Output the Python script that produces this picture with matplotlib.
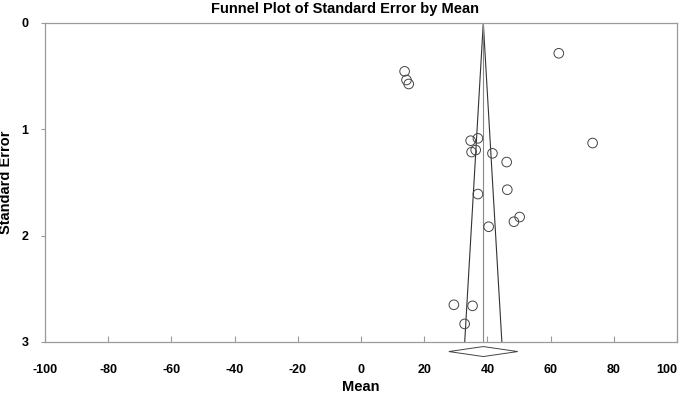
import numpy as np
import matplotlib
matplotlib.use("Agg")
import matplotlib.pyplot as plt

plt.rcParams['font.family'] = ['Liberation Sans', 'DejaVu Sans']

# study means and standard errors
MEANS = [62.6, 13.8, 14.4, 15.1, 34.7, 37.0, 35.0, 36.3, 41.6, 46.1,
         73.3, 46.3, 37.0, 50.2, 48.4, 40.4, 29.4, 35.3, 32.8]
STD_ERRORS = [0.285, 0.455, 0.536, 0.574, 1.107, 1.085, 1.214, 1.195, 1.226, 1.308,
              1.129, 1.568, 1.609, 1.825, 1.869, 1.916, 2.65, 2.66, 2.83]
POOLED_MEAN = 38.7
POOLED_HALF_CI = 10.9
X_TICKS = list(range(-100, 101, 20))
Y_TICKS = [0, 1, 2, 3]

GRAY = "#9a9a9a"

fig = plt.figure(figsize=(6.85, 3.96), dpi=100)
ax = fig.add_axes([0.0657, 0.1364, 0.9226, 0.8056])

max_se = 3.0
# funnel limits
ax.plot([POOLED_MEAN - 1.96 * max_se, POOLED_MEAN, POOLED_MEAN + 1.96 * max_se],
        [max_se, 0, max_se], color="#333333", lw=0.8, zorder=2)
ax.plot([POOLED_MEAN, POOLED_MEAN], [0, max_se], color="#888888", lw=0.8, zorder=2)

ax.scatter(MEANS, STD_ERRORS, s=48, facecolors="none", edgecolors="#444444",
           linewidths=0.7, zorder=3)

# pooled estimate diamond under the axis
dy, dh = 3.09, 0.047
ax.fill([POOLED_MEAN - POOLED_HALF_CI, POOLED_MEAN, POOLED_MEAN + POOLED_HALF_CI, POOLED_MEAN],
        [dy, dy - dh, dy, dy + dh], facecolor="white", edgecolor="#444444",
        lw=0.7, clip_on=False, zorder=3)

ax.set_xlim(-100, 100)
ax.set_ylim(3, 0)
ax.set_xticks(X_TICKS)
ax.set_yticks(Y_TICKS)
ax.set_xticklabels([str(t) for t in X_TICKS], fontweight="bold", fontsize=9)
ax.set_yticklabels([str(t) for t in Y_TICKS], fontweight="bold", fontsize=9)
ax.tick_params(axis="x", direction="in", length=4, color=GRAY, pad=16)
ax.tick_params(axis="y", direction="out", length=3, color=GRAY, pad=9)
# keep the last x label inside the figure
ax.get_xticklabels()[-1].set_horizontalalignment("right")
ax.get_xticklabels()[-1].set_x(100)
for sp in ax.spines.values():
    sp.set_color(GRAY)
    sp.set_linewidth(0.9)

ax.set_xlabel("Mean", fontweight="bold", fontsize=10.5, labelpad=3)
ax.set_ylabel("Standard Error", fontweight="bold", fontsize=10.5, labelpad=6)
fig.suptitle("Funnel Plot of Standard Error by Mean", fontweight="bold", fontsize=10.5,
             x=0.503, y=0.995, va="top")

fig.savefig("out.png", dpi=100)
